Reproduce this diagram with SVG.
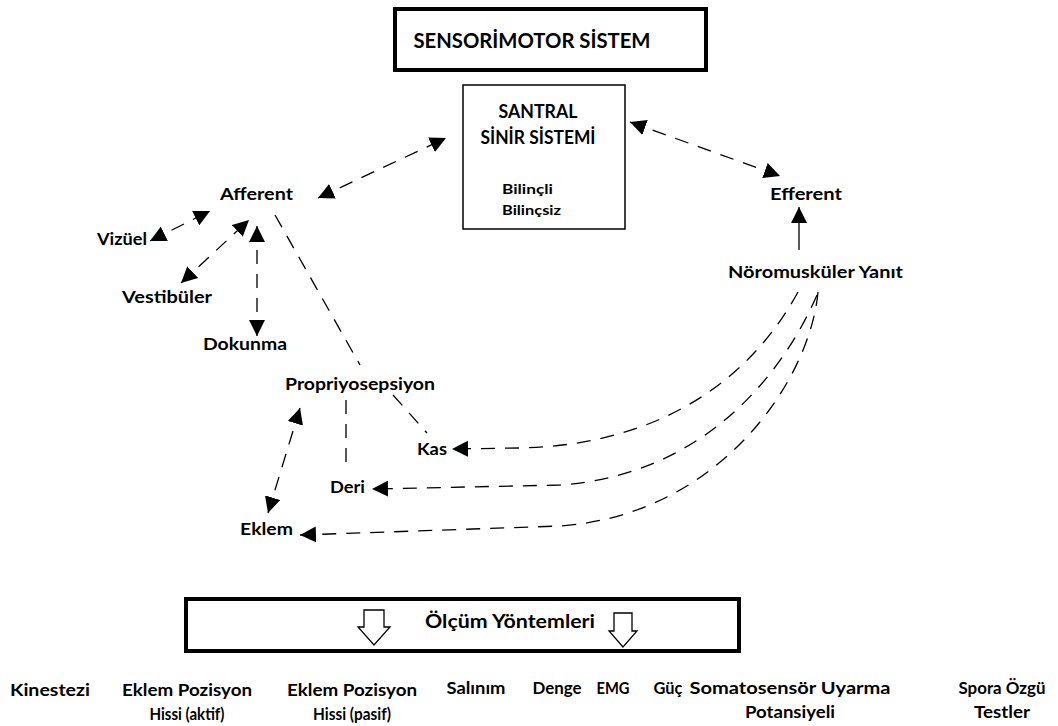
<svg xmlns="http://www.w3.org/2000/svg" width="1058" height="726" viewBox="0 0 1058 726">
<style>
text{font-family:Lato,"Open Sans","Liberation Sans",sans-serif;font-weight:bold;fill:#000}
.t{font-size:17px}
.b{font-size:17px}
.c{text-anchor:middle}
.d{fill:none;stroke:#000;stroke-width:1.3;stroke-dasharray:14 10}
.s{fill:none;stroke:#000;stroke-width:1.3}
</style>
<defs>
<marker id="ah" viewBox="0 0 10 10" refX="10" refY="5" markerWidth="16" markerHeight="16" markerUnits="userSpaceOnUse" orient="auto-start-reverse">
<path d="M0,0 L10,5 L0,10 z" fill="#000"/>
</marker>
</defs>
<rect width="1058" height="726" fill="#fff"/>
<g id="title">
<rect x="395" y="9" width="311" height="61" fill="#fff" stroke="#000" stroke-width="4"/>
<text x="532" y="48" font-size="20" class="c" textLength="237" lengthAdjust="spacingAndGlyphs">SENSORİMOTOR SİSTEM</text>
</g>
<g id="santral">
<rect x="463" y="85" width="162" height="144" fill="#fff" stroke="#000" stroke-width="1.5"/>
<text x="538" y="118" font-size="18" class="c" textLength="79" lengthAdjust="spacingAndGlyphs">SANTRAL</text>
<text x="538" y="144" font-size="18" class="c" textLength="115" lengthAdjust="spacingAndGlyphs">SİNİR SİSTEMİ</text>
<text x="502" y="194" font-size="14" textLength="51" lengthAdjust="spacingAndGlyphs">Bilinçli</text>
<text x="502" y="215" font-size="14" textLength="59" lengthAdjust="spacingAndGlyphs">Bilinçsiz</text>
</g>
<g id="afferent"><text x="220" y="200" class="t" textLength="73" lengthAdjust="spacingAndGlyphs">Afferent</text></g>
<g id="efferent"><text x="770" y="200" class="t" textLength="72" lengthAdjust="spacingAndGlyphs">Efferent</text></g>
<g id="noromuskuler"><text x="728" y="278" class="t" textLength="175" lengthAdjust="spacingAndGlyphs">Nöromusküler Yanıt</text></g>
<g id="vizuel"><text x="97" y="245" class="t" textLength="50" lengthAdjust="spacingAndGlyphs">Vizüel</text></g>
<g id="vestibuler"><text x="122" y="303" class="t" textLength="90" lengthAdjust="spacingAndGlyphs">Vestibüler</text></g>
<g id="dokunma"><text x="203" y="350" class="t" textLength="84" lengthAdjust="spacingAndGlyphs">Dokunma</text></g>
<g id="propriyosepsiyon"><text x="285" y="390" class="t" textLength="150" lengthAdjust="spacingAndGlyphs">Propriyosepsiyon</text></g>
<g id="kas"><text x="417" y="455" class="t" textLength="30" lengthAdjust="spacingAndGlyphs">Kas</text></g>
<g id="deri"><text x="330" y="493" class="t" textLength="35" lengthAdjust="spacingAndGlyphs">Deri</text></g>
<g id="eklem"><text x="240" y="535" class="t" textLength="53" lengthAdjust="spacingAndGlyphs">Eklem</text></g>
<g id="olcum">
<rect x="186" y="599" width="553" height="52" fill="#fff" stroke="#000" stroke-width="4"/>
<text x="425" y="628" font-size="19" textLength="170" lengthAdjust="spacingAndGlyphs">Ölçüm Yöntemleri</text>
<path d="M364,610 L384,610 L384,627 L390,627 L374,645 L358,627 L364,627 Z" fill="#fff" stroke="#000" stroke-width="1.3"/>
<path d="M614,613 L632,613 L632,631 L637,631 L623,647 L609,631 L614,631 Z" fill="#fff" stroke="#000" stroke-width="1.3"/>
</g>
<g id="methods">
<text x="50" y="696" class="c b" textLength="80" lengthAdjust="spacingAndGlyphs">Kinestezi</text>
<text x="187" y="696" class="c b" textLength="130" lengthAdjust="spacingAndGlyphs">Eklem Pozisyon</text>
<text x="187" y="720" class="c b" textLength="75" lengthAdjust="spacingAndGlyphs">Hissi (aktif)</text>
<text x="352" y="696" class="c b" textLength="130" lengthAdjust="spacingAndGlyphs">Eklem Pozisyon</text>
<text x="352" y="720" class="c b" textLength="78" lengthAdjust="spacingAndGlyphs">Hissi (pasif)</text>
<text x="476" y="694" class="c b" textLength="59" lengthAdjust="spacingAndGlyphs">Salınım</text>
<text x="557" y="694" class="c b" textLength="49" lengthAdjust="spacingAndGlyphs">Denge</text>
<text x="613" y="694" class="c b" textLength="33" lengthAdjust="spacingAndGlyphs">EMG</text>
<text x="668" y="694" class="c b" textLength="29" lengthAdjust="spacingAndGlyphs">Güç</text>
<text x="790" y="694" class="c b" textLength="201" lengthAdjust="spacingAndGlyphs">Somatosensör Uyarma</text>
<text x="790" y="718" class="c b" textLength="90" lengthAdjust="spacingAndGlyphs">Potansiyeli</text>
<text x="1002" y="694" class="c b" textLength="87" lengthAdjust="spacingAndGlyphs">Spora Özgü</text>
<text x="1002" y="718" class="c b" textLength="56" lengthAdjust="spacingAndGlyphs">Testler</text>
</g>
<g id="connectors">
<path class="d" d="M318,198 L446,138" marker-start="url(#ah)" marker-end="url(#ah)"/>
<path class="d" d="M630,122 L780,176" marker-start="url(#ah)" marker-end="url(#ah)"/>
<path class="s" d="M799,250 L799,207" marker-end="url(#ah)"/>
<path class="d" d="M150,241 L210,211" marker-start="url(#ah)" marker-end="url(#ah)"/>
<path class="d" d="M181,283 L249,220" marker-start="url(#ah)" marker-end="url(#ah)"/>
<path class="d" d="M257,226 L257,336" marker-start="url(#ah)" marker-end="url(#ah)"/>
<path class="d" d="M275,215 L360,365"/>
<path class="d" d="M393,395 L427,433"/>
<path class="d" d="M346,400 L346,463"/>
<path class="d" d="M300,408 L268,513" marker-start="url(#ah)" marker-end="url(#ah)"/>
<path class="d" d="M798,292 C750,380 660,445 520,448 L452,449" marker-end="url(#ah)"/>
<path class="d" d="M817,295 C780,380 700,475 560,485 L372,489" marker-end="url(#ah)"/>
<path class="d" d="M818,292 C810,380 720,515 560,526 L300,535" marker-end="url(#ah)"/>
</g>
</svg>
